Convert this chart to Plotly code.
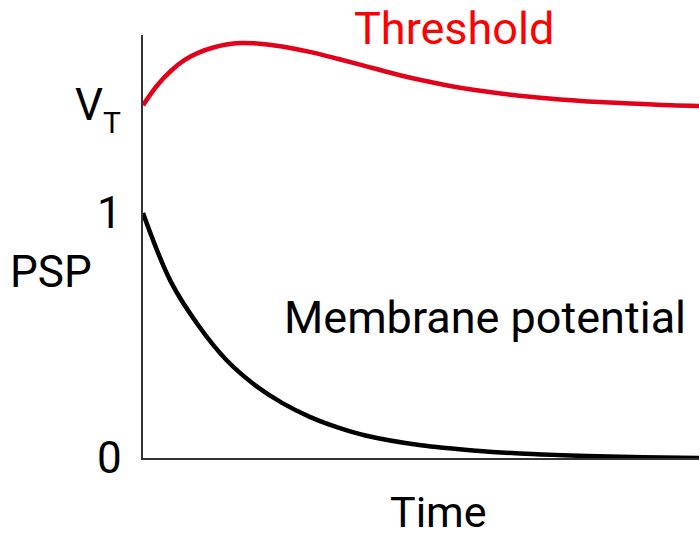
import plotly.graph_objects as go

# ---- data ----
threshold_t = [0, 0.25, 0.5, 0.75, 1.0, 1.25, 1.5, 1.75, 2.0, 2.5, 3.0, 3.5, 4.0, 4.5, 5.0,
               5.5, 6.0, 6.5, 7.0, 7.5, 8.0, 8.5, 9.0, 9.5, 10]
threshold_v = [1.44, 1.52, 1.58, 1.625, 1.655, 1.675, 1.688, 1.694, 1.693, 1.680, 1.658, 1.630,
               1.600, 1.570, 1.543, 1.520, 1.501, 1.486, 1.474, 1.464, 1.456, 1.450, 1.445,
               1.440, 1.437]

psp_t = [0, 0.5, 1.0, 1.5, 2.0, 2.5, 3.0, 3.5, 4.0, 5.0, 6.0, 7.0, 8.0, 9.0, 10]
psp_v = [1.0, 0.72, 0.54, 0.40, 0.30, 0.225, 0.168, 0.125, 0.092, 0.052, 0.030, 0.016,
         0.008, 0.003, 0.0]

y_tick_values = [0, 1]
y_tick_labels = ["0", "1"]
vt_value = 1.44

W, H = 699, 536
L, R, T, B = 143, 0, 35, 78
X_RANGE = [0, 10]
Y_RANGE = [0, 1.727]
FONT = "Roboto, Open Sans, sans-serif"


def px_x(px):
    return (px - L) / (W - L - R)


def px_y(py):
    return (H - B - py) / (H - B - T)


fig = go.Figure()
fig.add_trace(go.Scatter(x=threshold_t, y=threshold_v, mode="lines",
                         line=dict(color="#E2001A", width=4.5, shape="spline"),
                         hoverinfo="skip"))
fig.add_trace(go.Scatter(x=psp_t, y=psp_v, mode="lines",
                         line=dict(color="#000000", width=4.5, shape="spline"),
                         hoverinfo="skip"))

ann = []
ann.append(dict(text="Threshold", x=px_x(454), y=px_y(29), font=dict(size=45, color="#FF0000")))
ann.append(dict(text="Membrane potential", x=px_x(485), y=px_y(317), font=dict(size=45, color="#000")))
ann.append(dict(text="Time", x=px_x(438), y=px_y(512), font=dict(size=43, color="#000")))
ann.append(dict(text="PSP", x=px_x(51), y=px_y(272), font=dict(size=44, color="#000")))
for v, lab in zip(y_tick_values, y_tick_labels):
    ann.append(dict(text=lab, x=px_x(124), y=v, yref="y", xanchor="right",
                    font=dict(size=44, color="#000")))
ann.append(dict(text="V", x=px_x(89), y=vt_value, yref="y", font=dict(size=44, color="#000")))
ann.append(dict(text="T", x=px_x(111.5), y=px_y(122.5), font=dict(size=30, color="#000")))

for a in ann:
    a.setdefault("xref", "paper")
    a.setdefault("yref", "paper")
    a.setdefault("xanchor", "center")
    a.setdefault("yanchor", "middle")
    a["showarrow"] = False
    a["font"]["family"] = FONT

fig.update_layout(
    width=W, height=H,
    margin=dict(l=L, r=R, t=T, b=B, pad=0),
    paper_bgcolor="white", plot_bgcolor="white",
    showlegend=False,
    hovermode=False,
    annotations=ann,
    xaxis=dict(range=X_RANGE, showgrid=False, zeroline=False, showticklabels=False,
               ticks="", showline=True, linecolor="#333333", linewidth=2, fixedrange=True),
    yaxis=dict(range=Y_RANGE, showgrid=False, zeroline=False, showticklabels=False,
               ticks="", showline=True, linecolor="#333333", linewidth=2, fixedrange=True),
)

fig.write_html("out.html",
               config={"displayModeBar": False, "staticPlot": True},
               post_script="document.body.style.margin='0px';document.body.style.overflow='hidden';")
